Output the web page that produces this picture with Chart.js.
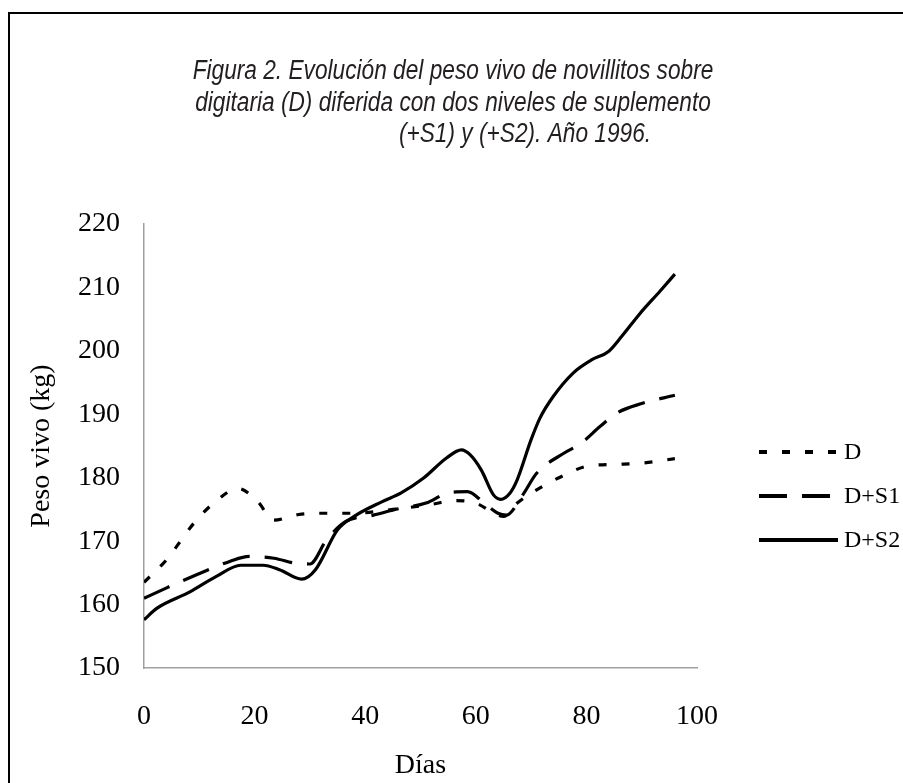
<!DOCTYPE html>
<html>
<head>
<meta charset="utf-8">
<script src="https://cdn.jsdelivr.net/npm/chart.js@4.4.1/dist/chart.umd.min.js"></script>
<style>
  body { margin: 0; background: #fff; }
  #cont { position: absolute; left: 0; top: 0; width: 903px; height: 783px; }
  #marco { position: absolute; left: 8px; top: 12px; width: 900px; height: 800px; border: 2px solid #000; box-sizing: border-box; pointer-events: none; }
</style>
</head>
<body>
<div id="cont"><canvas id="myChart" width="903" height="783"></canvas></div>
<div id="marco"></div>
<script>
//datos: dias y peso vivo (kg) de cada tratamiento
const dias_D = [0, 4, 9, 13, 17, 20.5, 23.5, 28, 33, 38, 45, 52, 56, 60, 63.5, 65, 67.5, 72, 76, 80, 85, 90, 96]
const peso_D = [163.5, 167, 172.8, 176.3, 178.3, 176.3, 173.3, 174.2, 174.4, 174.4, 175, 175.8, 176.4, 176, 174.3, 173.9, 176, 178.6, 180.4, 181.8, 182.1, 182.3, 183]

const dias_S1 = [0, 4, 9.5, 15.5, 19, 23.5, 27.5, 30, 33, 36.5, 41.5, 46, 51, 55, 58.5, 61.5, 64, 65.5, 68.5, 71, 76, 79, 82.5, 85.5, 90, 96]
const peso_S1 = [161, 162.6, 164.7, 166.8, 167.6, 167.3, 166.5, 166.4, 170.2, 173.1, 174.1, 175.1, 176, 177.6, 177.8, 176, 174.4, 174.1, 177.3, 180.7, 183.9, 185.4, 188.1, 190.2, 191.7, 193]

const dias_S2 = [0, 2.3, 8.3, 13, 17.5, 21.5, 24.5, 28.5, 31, 35, 38, 43, 46.5, 50.5, 54.7, 57.4, 59, 61, 63.2, 64.5, 66.2, 67.5, 70, 71.6, 74, 77.6, 81, 84, 86.4, 89.7, 93.3, 96]
const peso_S2 = [157.6, 159.4, 162, 164.4, 166.2, 166.2, 165.5, 164, 165.5, 171.8, 173.9, 176.2, 177.6, 179.9, 183.1, 184.4, 183.6, 181.2, 177.3, 176.6, 177.6, 179.7, 186, 189.4, 192.8, 196.5, 198.6, 199.9, 202.3, 205.9, 209.4, 212.1]

const etiquetas = ['D', 'D+S1', 'D+S2']
const titulo = ['Figura 2. Evolución del peso vivo de novillitos sobre',
    'digitaria (D) diferida con dos niveles de suplemento',
    '(+S1) y (+S2). Año 1996.']

//se arma cada serie como pares x,y
function pares(dias, peso) {
    return dias.map(function (d, i) {
        return { x: d, y: peso[i] };
    });
}

const serif = '"Liberation Serif", "Times New Roman", serif'

//titulo en tres lineas, la tercera va corrida a la derecha como en la figura
//la letra original es mas angosta, por eso se comprime un poco en horizontal
const tituloFig = {
    id: 'tituloFig',
    afterDraw(chart) {
        const ctx = chart.ctx
        const centros = [453, 453, 525]
        const bases = [79, 110.5, 142]
        const ancho = 0.84
        ctx.save()
        ctx.fillStyle = '#231f20'
        ctx.font = 'italic 27px "Liberation Sans", Arial, sans-serif'
        ctx.textAlign = 'center'
        ctx.textBaseline = 'alphabetic'
        ctx.scale(ancho, 1)
        titulo.forEach(function (t, i) {
            ctx.fillText(t, centros[i] / ancho, bases[i])
        })
        ctx.restore()
    }
}

//leyenda dibujada a mano a la derecha, igual que en la figura
const leyenda = {
    id: 'leyenda',
    afterDraw(chart) {
        const ctx = chart.ctx
        chart.data.datasets.forEach(function (ds, i) {
            const y = 452 + i * 44
            ctx.save()
            ctx.strokeStyle = '#000'
            ctx.lineWidth = 4
            ctx.setLineDash(ds.borderDash || [])
            ctx.beginPath()
            ctx.moveTo(759, y)
            ctx.lineTo(838, y)
            ctx.stroke()
            ctx.fillStyle = '#000'
            ctx.font = '24px ' + serif
            ctx.textBaseline = 'middle'
            ctx.fillText(ds.label, 844, y + 1)
            ctx.restore()
        })
    }
}

const ctx = document.getElementById('myChart').getContext('2d')
let chart = new Chart(ctx, {
    type: 'line',
    data: {
        datasets: [{
            label: etiquetas[0],
            data: pares(dias_D, peso_D),
            borderColor: '#000',
            borderWidth: 3.2,
            borderDash: [8, 15]
        },
        {
            label: etiquetas[1],
            data: pares(dias_S1, peso_S1),
            borderColor: '#000',
            borderWidth: 3.2,
            borderDash: [28, 15]
        },
        {
            label: etiquetas[2],
            data: pares(dias_S2, peso_S2),
            borderColor: '#000',
            borderWidth: 3.2
        }]
    },
    options: {
        responsive: false,
        animation: false,
        devicePixelRatio: 1,
        cubicInterpolationMode: 'monotone',
        elements: { point: { radius: 0 } },
        layout: { padding: { left: 0, top: 224, right: 206, bottom: 0 } },
        plugins: {
            legend: { display: false },
            tooltip: { enabled: false },
            title: { display: false }
        },
        scales: {
            x: {
                type: 'linear',
                min: 0,
                max: 100,
                grid: { display: false, drawTicks: false },
                border: { display: true, color: '#a0a0a0', width: 1.5 },
                ticks: { stepSize: 20, padding: 32, color: '#000', font: { family: serif, size: 28 } },
                title: { display: true, text: 'Días', color: '#000', font: { family: serif, size: 28 }, padding: { top: 0, bottom: 1 } },
                afterFit: function (s) { s.height = 115 }
            },
            y: {
                min: 150,
                max: 220,
                grid: { display: false, drawTicks: false },
                border: { display: true, color: '#a0a0a0', width: 1.5 },
                ticks: { stepSize: 10, padding: 24, color: '#000', font: { family: serif, size: 28 } },
                title: { display: true, text: 'Peso vivo (kg)', color: '#000', font: { family: serif, size: 28 }, padding: { top: 25, bottom: 0 } },
                afterFit: function (s) { s.width = 144 }
            }
        }
    },
    plugins: [tituloFig, leyenda]
});
</script>
</body>
</html>
